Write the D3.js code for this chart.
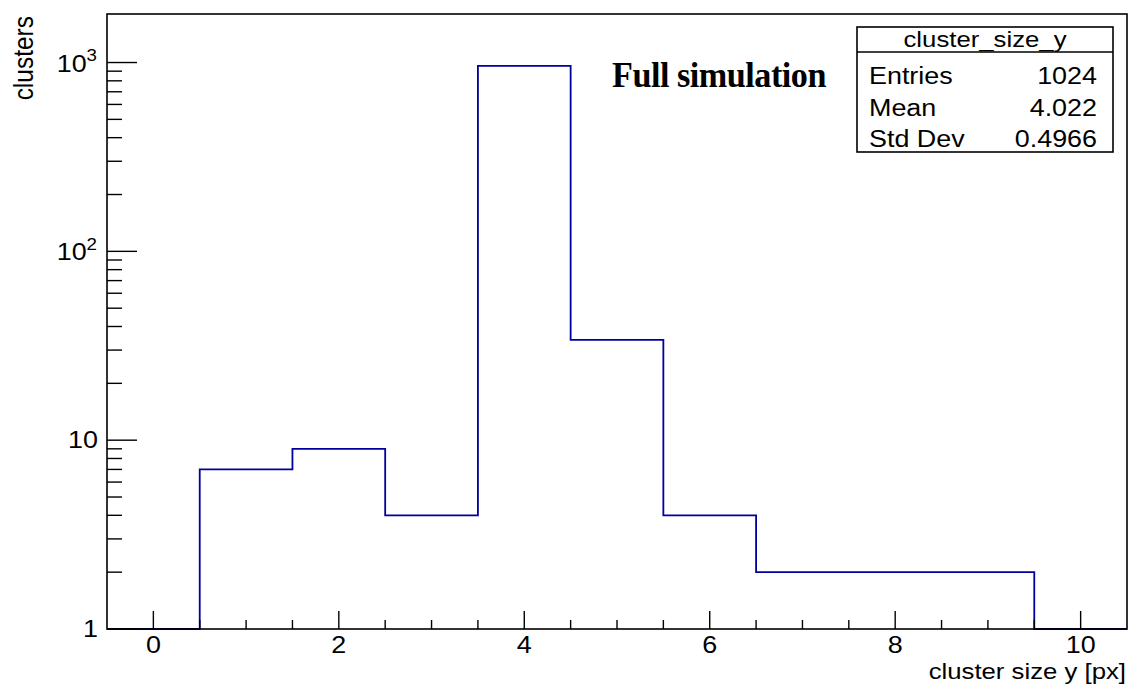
<!DOCTYPE html>
<html>
<head>
<meta charset="utf-8">
<script src="https://cdn.jsdelivr.net/npm/d3@7"></script>
<style>
  html, body { margin: 0; padding: 0; background: #fff; }
  svg { display: block; }
  .sans { font-family: "Liberation Sans", Arial, Helvetica, sans-serif; fill: #000; }
</style>
</head>
<body>
<script>
// Histogram of cluster sizes along y (one bin per integer size)
const binCenters = [0, 1, 2, 3, 4, 5, 6, 7, 8, 9, 10];
const counts     = [0, 7, 9, 4, 960, 34, 4, 2, 2, 2, 0];

// Axis ticks
const xMajorTicks = [0, 2, 4, 6, 8, 10];
const yDecades    = [1, 10, 100, 1000];

// Statistics box
const statsTitle  = "cluster_size_y";
const statsLabels = ["Entries", "Mean", "Std Dev"];
const statsValues = ["1024", "4.022", "0.4966"];

const plotTitle = "Full simulation";
const xTitle = "cluster size y [px]";
const yTitle = "clusters";

const W = 1130, H = 686;
const frame = { left: 107, right: 1127, top: 14, bottom: 629 };
const SX = 1.17; // horizontal glyph stretch of the canvas text

const svg = d3.select("body").append("svg")
  .attr("width", W).attr("height", H);

const x = d3.scaleLinear().domain([-0.5, 10.5]).range([frame.left, frame.right]);
const y = d3.scaleLog().domain([1, Math.pow(10, 3.257)]).range([frame.bottom, frame.top]);

// Stretched text helper
function stext(g, tx, ty, str, size, anchor, sx = SX) {
  return g.append("text")
    .attr("class", "sans")
    .attr("transform", `translate(${tx},${ty}) scale(${sx},1)`)
    .attr("text-anchor", anchor)
    .style("font-size", size + "px")
    .text(str);
}

// Histogram outline (values below the axis minimum sit on the floor)
const pts = [];
binCenters.forEach((c, i) => {
  const v = Math.max(counts[i], 1);
  pts.push([c - 0.5, v], [c + 0.5, v]);
});
pts.unshift([binCenters[0] - 0.5, 1]);
pts.push([binCenters[binCenters.length - 1] + 0.5, 1]);

svg.append("path")
  .datum(pts)
  .attr("fill", "none")
  .attr("stroke", "#00009c")
  .attr("stroke-width", 1.8)
  .attr("d", d3.line().x(d => x(d[0])).y(d => y(d[1])));

// Frame
svg.append("rect")
  .attr("x", frame.left).attr("y", frame.top)
  .attr("width", frame.right - frame.left).attr("height", frame.bottom - frame.top)
  .attr("fill", "none").attr("stroke", "#000").attr("stroke-width", 1.6);

// X ticks: major every 2, minor every 0.5
const xMinor = d3.range(-0.5, 10.5001, 0.5).filter(v => !xMajorTicks.includes(v) && v > -0.5 && v < 10.5);
svg.append("g").selectAll("line").data(xMinor).join("line")
  .attr("x1", d => x(d)).attr("x2", d => x(d))
  .attr("y1", frame.bottom).attr("y2", frame.bottom - 9)
  .attr("stroke", "#000").attr("stroke-width", 1.4);
svg.append("g").selectAll("line").data(xMajorTicks).join("line")
  .attr("x1", d => x(d)).attr("x2", d => x(d))
  .attr("y1", frame.bottom).attr("y2", frame.bottom - 18)
  .attr("stroke", "#000").attr("stroke-width", 1.4);

const xl = svg.append("g");
xMajorTicks.forEach(t => stext(xl, x(t), frame.bottom + 24, String(t), 23, "middle"));

// Y ticks: decades long, 2..9 short
const yMinor = [];
yDecades.forEach(d => { for (let k = 2; k <= 9; k++) { const v = d * k; if (v < y.domain()[1]) yMinor.push(v); } });
svg.append("g").selectAll("line").data(yMinor).join("line")
  .attr("x1", frame.left).attr("x2", frame.left + 15)
  .attr("y1", d => y(d)).attr("y2", d => y(d))
  .attr("stroke", "#000").attr("stroke-width", 1.4);
svg.append("g").selectAll("line").data(yDecades).join("line")
  .attr("x1", frame.left).attr("x2", frame.left + 30)
  .attr("y1", d => y(d)).attr("y2", d => y(d))
  .attr("stroke", "#000").attr("stroke-width", 1.4);

const yl = svg.append("g");
yDecades.forEach(d => {
  const e = Math.round(Math.log10(d));
  const ty = y(d);
  if (e <= 1) {
    stext(yl, 98, ty + 8, String(d), 23, "end");
  } else {
    const t = yl.append("text")
      .attr("class", "sans")
      .attr("transform", `translate(97,${ty + 9}) scale(${SX},1)`)
      .attr("text-anchor", "end")
      .style("font-size", "23px");
    t.append("tspan").text("10");
    t.append("tspan").attr("dy", -10.5).style("font-size", "16px").text(String(e));
  }
});

// Axis titles
stext(svg, 1126, 679, xTitle, 22, "end");
svg.append("text")
  .attr("class", "sans")
  .attr("transform", `translate(33,16) scale(1.12,1) rotate(-90)`)
  .attr("text-anchor", "end")
  .style("font-size", "24.5px")
  .text(yTitle);

// Plot title
svg.append("text")
  .attr("x", 612).attr("y", 87)
  .attr("textLength", 214).attr("lengthAdjust", "spacingAndGlyphs")
  .style("font-family", "'Liberation Serif', 'DejaVu Serif', serif")
  .style("font-weight", "bold")
  .style("font-size", "35px")
  .style("letter-spacing", "-0.5px")
  .text(plotTitle);

// Statistics box
const sb = { x0: 857, y0: 27, x1: 1113, y1: 152, sep: 52 };
const st = svg.append("g");
st.append("rect")
  .attr("x", sb.x0).attr("y", sb.y0)
  .attr("width", sb.x1 - sb.x0).attr("height", sb.y1 - sb.y0)
  .attr("fill", "#fff").attr("stroke", "#000").attr("stroke-width", 1.6);
st.append("line")
  .attr("x1", sb.x0).attr("x2", sb.x1).attr("y1", sb.sep).attr("y2", sb.sep)
  .attr("stroke", "#000").attr("stroke-width", 1.4);
stext(st, (sb.x0 + sb.x1) / 2, 47, statsTitle, 22, "middle");
const rowBase = [83.5, 115.5, 147];
statsLabels.forEach((lab, i) => {
  stext(st, 869, rowBase[i], lab, 23, "start");
  stext(st, 1097, rowBase[i], statsValues[i], 23, "end");
});
</script>
</body>
</html>
